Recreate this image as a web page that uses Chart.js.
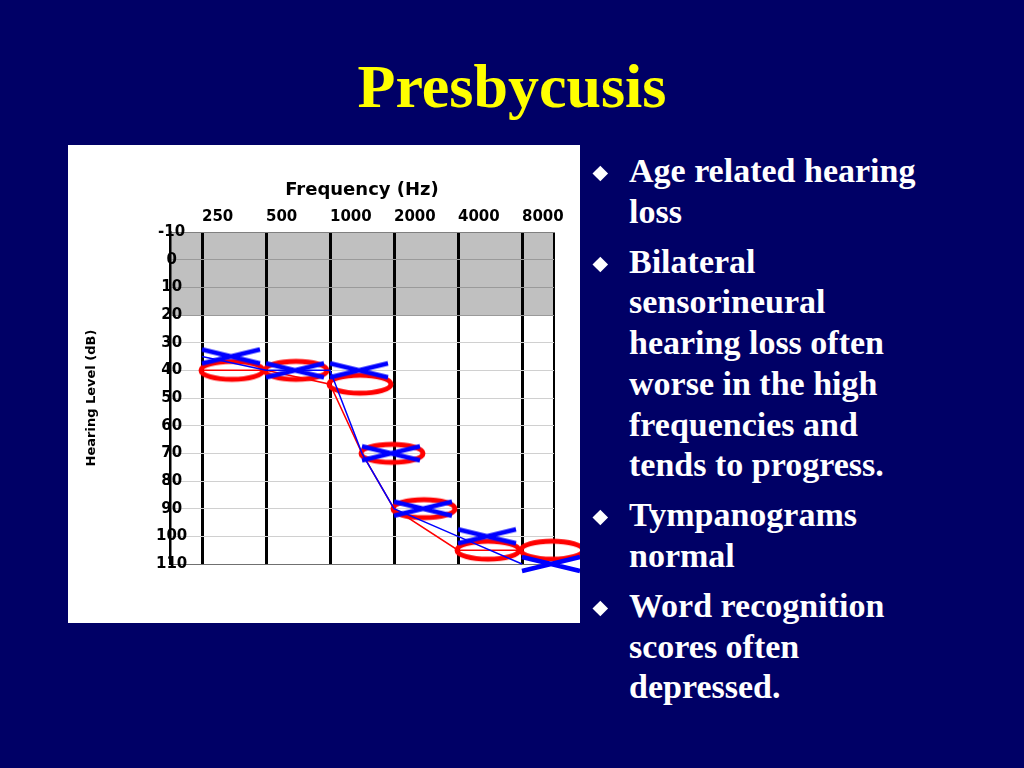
<!DOCTYPE html>
<html>
<head>
<meta charset="utf-8">
<script src="https://cdn.jsdelivr.net/npm/chart.js@4.4.1/dist/chart.umd.min.js"></script>
<style>
html, body { margin: 0; padding: 0; }
body { width: 1024px; height: 768px; background: #000066; position: relative; overflow: hidden;
       font-family: 'Liberation Serif', 'Times New Roman', serif; }
#title { position: absolute; left: 0; top: 48px; width: 1024px; text-align: center; color: #ffff00;
         font-weight: bold; font-size: 62px; line-height: 76px; }
#box { position: absolute; left: 68px; top: 145px; width: 512px; height: 478px; background: #fff; }
#bullets { position: absolute; left: 596px; top: 151px; color: #fff; font-weight: bold;
           font-size: 34px; line-height: 40.7px; }
.item { position: relative; padding-left: 33px; margin-bottom: 9.3px; white-space: nowrap; }
.item:before { content: ''; position: absolute; left: -1px; top: 17px; width: 10.6px; height: 10.6px;
               background: #fff; transform: rotate(45deg); }
</style>
</head>
<body>
<div id="title">Presbycusis</div>
<div id="box"><canvas id="audiogram" width="512" height="478"></canvas></div>
<div id="bullets">
  <div class="item">Age related hearing<br>loss</div>
  <div class="item">Bilateral<br>sensorineural<br>hearing loss often<br>worse in the high<br>frequencies and<br>tends to progress.</div>
  <div class="item">Tympanograms<br>normal</div>
  <div class="item">Word recognition<br>scores often<br>depressed.</div>
</div>
<script>
// audiogram data
const freqLabels = ['250', '500', '1000', '2000', '4000', '8000'];
const freqGrid = [0, 1, 2, 3, 4, 5];
const freqPos = [0, 1, 2, 2.5, 3, 4, 5];   // 1500 Hz sits between 1000 and 2000
const leftEar = [35, 40, 40, 70, 90, 100, 110];   // blue X
const rightEar = [40, 40, 45, 70, 90, 105, 105];  // red O
const dbMin = -10;
const dbMax = 110;
const normalLimit = 20;

// stretched X / O symbols, drawn to the right of the point
function makeX(color) {
    const c = document.createElement('canvas');
    c.width = 124; c.height = 20;
    const g = c.getContext('2d');
    g.strokeStyle = color;
    g.lineWidth = 4.5;
    g.beginPath();
    g.moveTo(62, 3); g.lineTo(120, 17);
    g.moveTo(62, 17); g.lineTo(120, 3);
    g.stroke();
    return c;
}
function makeO(color) {
    const c = document.createElement('canvas');
    c.width = 136; c.height = 28;
    const g = c.getContext('2d');
    g.strokeStyle = color;
    g.lineWidth = 5;
    g.beginPath();
    g.ellipse(98, 14, 31, 9, 0, 0, Math.PI * 2);
    g.stroke();
    return c;
}

// grey band for normal hearing
const normalZone = {
    id: 'normalZone',
    beforeDraw(chart) {
        const { ctx, chartArea, scales } = chart;
        const top = scales.y.getPixelForValue(dbMin);
        const bottom = scales.y.getPixelForValue(normalLimit);
        ctx.save();
        ctx.fillStyle = '#c0c0c0';
        ctx.fillRect(chartArea.left, top, chartArea.right - chartArea.left, bottom - top);
        ctx.restore();
    }
};

const ctx = document.getElementById('audiogram').getContext('2d');
new Chart(ctx, {
    type: 'scatter',
    data: {
        datasets: [{
            label: 'Left',
            data: freqPos.map((x, i) => ({ x: x, y: leftEar[i] })),
            showLine: true,
            borderColor: '#0000ff',
            borderWidth: 1.5,
            pointStyle: makeX('#0000ff'),
            pointRadius: 5,
            clip: false
        }, {
            label: 'Right',
            data: freqPos.map((x, i) => ({ x: x, y: rightEar[i] })),
            showLine: true,
            borderColor: '#ff0000',
            borderWidth: 1.5,
            pointStyle: makeO('#ff0000'),
            pointRadius: 5,
            clip: false
        }]
    },
    options: {
        responsive: false,
        animation: false,
        layout: { padding: { left: 0, top: 0, right: 26, bottom: 59 } },
        plugins: {
            legend: { display: false },
            tooltip: { enabled: false }
        },
        scales: {
            x: {
                type: 'linear',
                position: 'top',
                min: -0.5,
                max: 5.5,
                afterBuildTicks: axis => {
                    axis.ticks = [-0.5, ...freqGrid, 5.5].map(v => ({ value: v }));
                },
                afterFit: axis => { axis.height = 87; },
                grid: {
                    color: '#000',
                    lineWidth: c => (c.tick && Number.isInteger(c.tick.value)) ? 3 : 2,
                    drawTicks: false
                },
                border: { display: true, color: '#808080', width: 1 },
                ticks: {
                    autoSkip: false,
                    maxRotation: 0,
                    align: 'start',
                    padding: 6,
                    color: '#000',
                    font: { family: 'DejaVu Sans', size: 15, weight: 'bold' },
                    callback: v => Number.isInteger(v) ? freqLabels[v] : ''
                },
                title: {
                    display: true,
                    text: 'Frequency (Hz)',
                    color: '#000',
                    font: { family: 'DejaVu Sans', size: 18, weight: 'bold' },
                    padding: { top: 35, bottom: 0 }
                }
            },
            y: {
                reverse: true,
                min: dbMin,
                max: dbMax,
                afterFit: axis => { axis.width = 102; },
                grid: {
                    color: c => {
                        const v = c.tick ? c.tick.value : 0;
                        if (v === dbMin || v === dbMax) return '#707070';
                        return v <= normalLimit ? '#9a9a9a' : '#d0d0d0';
                    },
                    lineWidth: 1,
                    drawTicks: false
                },
                border: { display: true, color: '#000', width: 2.5 },
                ticks: {
                    stepSize: 10,
                    mirror: true,
                    crossAlign: 'center',
                    padding: -14,
                    color: '#000',
                    font: { family: 'DejaVu Sans', size: 15, weight: 'bold' }
                },
                title: {
                    display: true,
                    text: 'Hearing Level (dB)',
                    color: '#000',
                    font: { family: 'DejaVu Sans', size: 13, weight: 'bold' },
                    padding: { top: 16, bottom: 0 }
                }
            }
        }
    },
    plugins: [normalZone]
});
</script>
</body>
</html>
